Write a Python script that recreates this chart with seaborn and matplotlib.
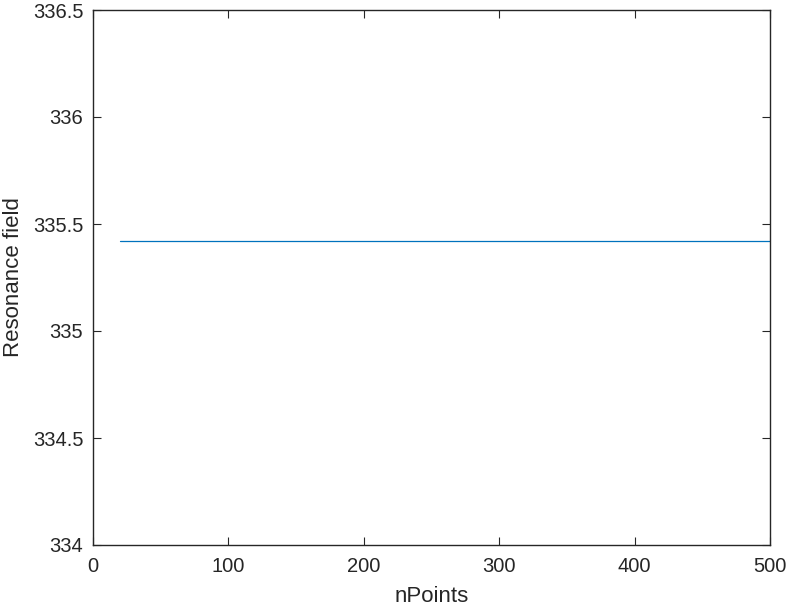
import matplotlib
matplotlib.use("Agg")
import matplotlib.pyplot as plt
import pandas as pd
import seaborn as sns

# values
n_points = [20, 100, 200, 300, 400, 500]
res_field = [335.42, 335.42, 335.42, 335.42, 335.42, 335.42]
x_ticks = [0, 100, 200, 300, 400, 500]
y_ticks = [334, 334.5, 335, 335.5, 336, 336.5]
y_labels = ['334', '334.5', '335', '335.5', '336', '336.5']

df = pd.DataFrame({'nPoints': n_points, 'field': res_field})

sns.set_theme(style='ticks')
plt.rcParams['font.family'] = ['Liberation Sans', 'DejaVu Sans']

fig, ax = plt.subplots(figsize=(7.9, 6.08), dpi=100)
fig.subplots_adjust(left=93/790, right=770/790, top=1-10/608, bottom=1-545/608)

sns.lineplot(data=df, x='nPoints', y='field', ax=ax, color='#0072BD', linewidth=0.9)

ax.set_xlim(0, 500)
ax.set_ylim(334, 336.5)
ax.set_xticks(x_ticks)
ax.set_yticks(y_ticks)
ax.set_yticklabels(y_labels)
ax.set_xlabel('nPoints', fontsize=16, color='#262626', labelpad=7)
ax.set_ylabel('Resonance field', fontsize=16, color='#262626', labelpad=6)
ax.tick_params(direction='in', length=6, width=0.8, labelsize=14.5, colors='#262626',
               top=True, right=True, pad=7)
ax.tick_params(axis='x', pad=9)
for s in ax.spines.values():
    s.set_color('#262626')
    s.set_linewidth(1.0)

fig.savefig('out.png', dpi=100)
